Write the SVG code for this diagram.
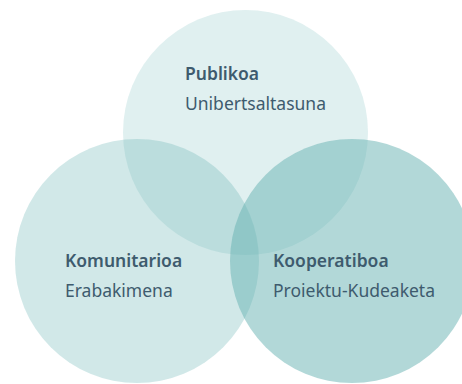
<svg xmlns="http://www.w3.org/2000/svg" width="462" height="384" viewBox="0 0 462 384">
<style>
.c{fill:#66b2b2}
.t{font-family:"Noto Sans","Open Sans",sans-serif;font-size:17.5px;fill:#3e5b6e}
.b{font-weight:600}
</style>
<rect width="462" height="384" fill="#ffffff"/>
<g id="publikoa">
<circle class="c" cx="245.5" cy="132.5" r="122.5" fill-opacity="0.2"/>
</g>
<g id="komunitarioa">
<circle class="c" cx="137" cy="261" r="122" fill-opacity="0.3"/>
</g>
<g id="kooperatiboa">
<circle class="c" cx="352" cy="261" r="122" fill-opacity="0.5"/>
</g>
<g id="labels">
<text class="t b" x="185" y="80">Publikoa</text>
<text class="t" x="185" y="110">Unibertsaltasuna</text>
<text class="t b" x="65" y="267">Komunitarioa</text>
<text class="t" x="65" y="297">Erabakimena</text>
<text class="t b" x="273" y="267">Kooperatiboa</text>
<text class="t" x="273" y="297">Proiektu-Kudeaketa</text>
</g>
<g id="connectors"/>
</svg>
